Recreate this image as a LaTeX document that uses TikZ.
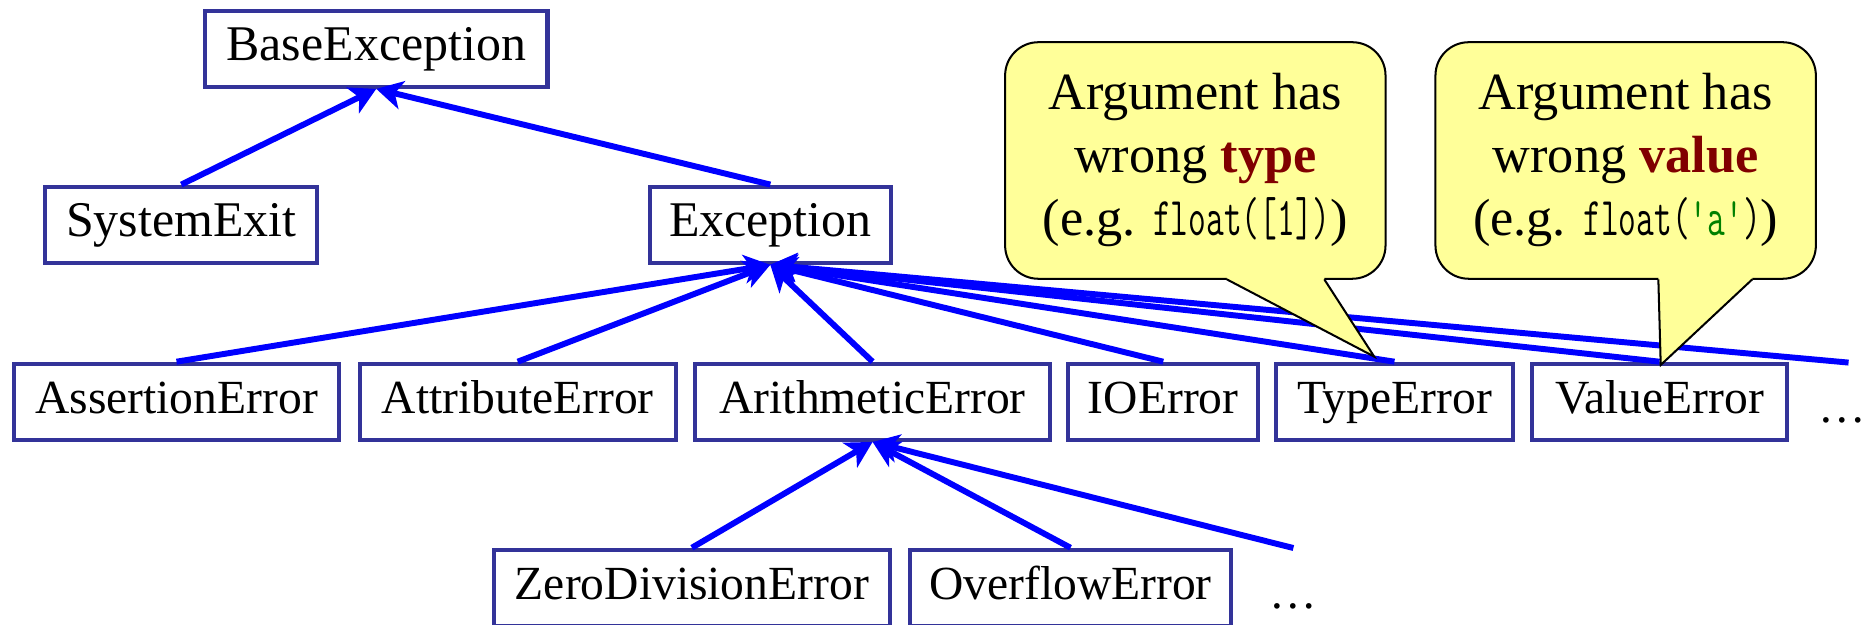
\documentclass[tikz,border=0pt]{standalone}
\usepackage{graphicx}
\usepackage{fontspec}
\setmainfont{Liberation Serif}
\usetikzlibrary{arrows.meta}
\definecolor{boxblue}{HTML}{333399}
\definecolor{lineblue}{HTML}{0000FF}
\definecolor{callfill}{HTML}{FFFF99}
\definecolor{kwred}{HTML}{800000}
\definecolor{strgreen}{HTML}{008000}
\newcommand{\cde}[1]{\scalebox{0.63}[1]{\ttfamily\fontsize{46}{53}\selectfont #1}}
\begin{document}
\begin{tikzpicture}[x=1pt,y=-1pt,
  cls/.style={draw=boxblue, line width=3.5pt, fill=white, inner sep=0pt,
    minimum height=64pt, text height=28pt, text depth=9pt,
    font=\fontsize{40}{48}\selectfont},
  topcls/.style={cls, text height=29pt, text depth=9pt, font=\fontsize{42}{50}\selectfont},
  inh/.style={draw=lineblue, line width=5pt, -{Stealth[length=22pt,width=24pt,inset=6pt]}},
  note/.style={draw=black, line width=1.7pt, fill=callfill, rounded corners=28pt,
    minimum width=320pt, minimum height=199pt, align=center, inner sep=0pt,
    font=\fontsize{44}{53}\selectfont},
  pointerline/.style={draw=black, line width=1.7pt, line join=miter},
  ell/.style={inner sep=0pt, anchor=base, font=\fontsize{40}{48}\selectfont}]
\useasboundingbox (0,0) rectangle (1568,525);

% classes
\node[topcls, minimum width=288pt] (base) at (316.5,41) {BaseException};
\node[topcls, minimum width=229pt] (sysexit) at (152.5,189) {SystemExit};
\node[topcls, minimum width=203pt] (exc) at (648,189) {Exception};

\node[cls, minimum width=274pt] (assert) at (148.5,338) {AssertionError};
\node[cls, minimum width=266pt] (attr) at (435.5,338) {AttributeError};
\node[cls, minimum width=299pt] (arith) at (734,338) {ArithmeticError};
\node[cls, minimum width=160pt] (io) at (978.5,338) {IOError};
\node[cls, minimum width=199pt] (typeerr) at (1173,338) {TypeError};
\node[cls, minimum width=215pt] (valueerr) at (1396,338) {ValueError};

\node[cls, minimum width=333pt] (zero) at (582,494.5) {ZeroDivisionError};
\node[cls, minimum width=270pt] (overflow) at (900.5,494.5) {OverflowError};

\node[ell] (more1) at (1550,355) {\ldots};
\node[ell] (more2) at (1088,512) {\ldots};

\coordinate (excmore) at (1555,305);
\coordinate (arithmore) at (1088,461);

% inheritance connectors
\draw[inh] (sysexit.north) -- (base.south);
\draw[inh] (exc.north) -- (base.south);
\foreach \c in {assert, attr, arith, io, typeerr, valueerr}
  \draw[inh] (\c.north) -- (exc.south);
\draw[inh] (excmore) -- (exc.south);
\foreach \c in {zero, overflow}
  \draw[inh] (\c.north) -- (arith.south);
\draw[inh] (arithmore) -- (arith.south);

% callouts
\node[note] (typenote) at (1005.5,135)
  {Argument has\\wrong \textbf{\textcolor{kwred}{type}}\\(e.g. \cde{float([1])})};
\node[note] (valnote) at (1367.5,135)
  {Argument has\\wrong \textbf{\textcolor{kwred}{value}}\\(e.g. \cde{float(\textcolor{strgreen}{'a'})})};

\coordinate (typetip) at (1156,300);
\coordinate (valtip) at (1397,307);

\fill[callfill] (1032,232) -- (1032,235) -- (typetip) -- (1114,235) -- (1114,232) -- cycle;
\draw[pointerline] (1032,235) -- (typetip) -- (1114,235);

\fill[callfill] (1395,232) -- (1395,235) -- (valtip) -- (1474,235) -- (1474,232) -- cycle;
\draw[pointerline] (1395,235) -- (valtip) -- (1474,235);
\end{tikzpicture}
\end{document}
